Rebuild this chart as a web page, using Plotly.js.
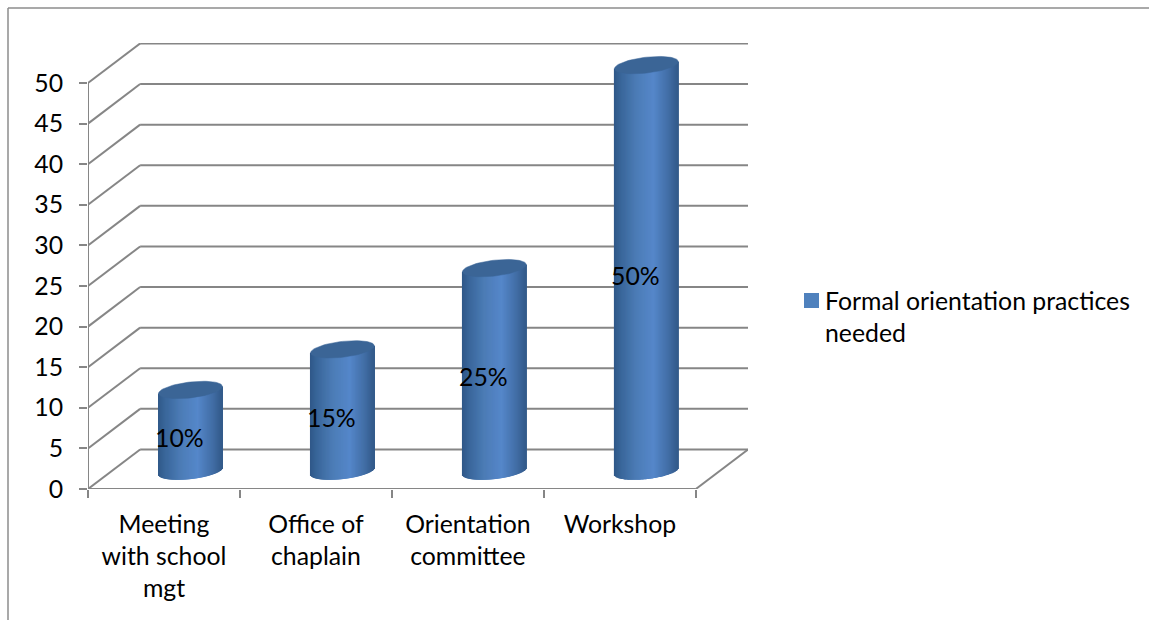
<!DOCTYPE html>
<html>
<head>
<meta charset="utf-8">
<script src="https://cdn.plot.ly/plotly-3.0.1.min.js"></script>
<style>html,body{margin:0;padding:0;background:#fff;overflow:hidden}#chart{width:1149px;height:620px}</style>
</head>
<body>
<div id="chart"></div>
<script>
// Survey results
const categories = ['Meeting<br>with school<br>mgt', 'Office of<br>chaplain', 'Orientation<br>committee', 'Workshop'];
const values = [10, 15, 25, 50];
const valueLabels = ['10%', '15%', '25%', '50%'];
const seriesName = 'Formal orientation practices<br>needed';
const yTicks = [0, 5, 10, 15, 20, 25, 30, 35, 40, 45, 50];

// Oblique projection of the 3D box, in axis units
const depthX = 0.343, depthY = 4.87;
const yMax = 50, xCount = categories.length;
const radiusX = 0.21, capB = 0.98, capTilt = 0.43, baseLift = 2.2, sliceCount = 64;
const gridColor = '#868686';
const seriesColor = '#4F81BD';
const shade = [[0, [47, 88, 136]], [0.12, [58, 103, 155]], [0.35, [76, 124, 182]], [0.62, [85, 135, 202]], [0.85, [66, 110, 166]], [1, [50, 90, 138]]];

function shadeAt(t) {
  for (let i = 1; i < shade.length; i++) {
    if (t <= shade[i][0]) {
      const k = (t - shade[i - 1][0]) / (shade[i][0] - shade[i - 1][0]);
      const c = shade[i - 1][1].map((v, j) => Math.round(v + (shade[i][1][j] - v) * k));
      return 'rgb(' + c.join(',') + ')';
    }
  }
  return 'rgb(' + shade[shade.length - 1][1].join(',') + ')';
}

const line = {color: gridColor, width: 2};
const seg = (x0, y0, x1, y1) => ({type: 'line', xref: 'x', yref: 'y', x0, y0, x1, y1, line, layer: 'below'});

// Walls and floor of the box
const shapes = [];
yTicks.forEach(t => {
  shapes.push(seg(0, t, depthX, t + depthY));
  shapes.push(seg(depthX, t + depthY, xCount + depthX, t + depthY));
});
shapes.push(seg(0, 0, 0, yMax));
shapes.push(seg(0, 0, xCount, 0));
shapes.push(seg(xCount, 0, xCount + depthX, depthY));

// Page frame and legend swatch, placed relative to the plot area
const frame = {color: '#8c8c8c', width: 1.5};
const px = v => (v - 88) / 660, py = v => (489 - v) / 446;
shapes.push({type: 'line', xref: 'paper', yref: 'paper', x0: px(8), x1: px(1149), y0: py(8), y1: py(8), line: frame});
shapes.push({type: 'line', xref: 'paper', yref: 'paper', x0: px(8), x1: px(8), y0: py(8), y1: py(620), line: frame});
shapes.push({type: 'rect', xref: 'paper', yref: 'paper', x0: px(804), x1: px(819), y0: py(293), y1: py(308), fillcolor: seriesColor, line: {width: 0}});

const traces = [];
const centers = categories.map((_, i) => i + 0.503 + depthX / 2);

// Cylinders: shaded body built from overlapping slices, then the elliptical cap
values.forEach((v, i) => {
  const cx = centers[i], xs = [], bases = [], heights = [], colors = [];
  const w = 2 * radiusX / sliceCount;
  for (let s = 0; s < sliceCount; s++) {
    const t = (s + 0.5) / sliceCount;
    const u = 2 * t - 1;
    const lower = baseLift - capB * Math.sqrt(1 - u * u) + capTilt * u;
    const upper = v + baseLift + capTilt * u;
    xs.push(cx - radiusX + t * 2 * radiusX);
    bases.push(lower);
    heights.push(upper - lower);
    colors.push(shadeAt(t));
  }
  traces.push({type: 'bar', x: xs, y: heights, base: bases, width: w * 2.2,
    marker: {color: colors, opacity: 1, line: {width: 0}}, showlegend: false, hoverinfo: 'skip'});
  const ex = [], ey = [];
  for (let a = 0; a <= 72; a++) {
    const th = a / 72 * 2 * Math.PI;
    ex.push(cx + radiusX * Math.cos(th));
    ey.push(v + baseLift + capB * Math.sin(th) + capTilt * Math.cos(th));
  }
  traces.push({type: 'scatter', mode: 'lines', x: ex, y: ey, fill: 'toself', fillcolor: '#3B6596',
    line: {color: '#3B6596', width: 0.5}, showlegend: false, hoverinfo: 'skip'});
});

const font = {family: 'Lato, sans-serif', size: 24.8, color: '#000'};

const annotations = values.map((v, i) => ({
  xref: 'x', yref: 'y', x: centers[i] - 0.072, y: v / 2 + 1.35, text: valueLabels[i], showarrow: false, font
}));
annotations.push({
  xref: 'paper', yref: 'paper', x: px(824), y: py(316), xanchor: 'left', yanchor: 'middle', align: 'left',
  text: seriesName, showarrow: false, font, borderpad: 0
});

Plotly.newPlot('chart', traces, {
  width: 1149, height: 620,
  margin: {l: 88, r: 401, t: 43, b: 131, pad: 0, autoexpand: false},
  paper_bgcolor: '#fff', plot_bgcolor: '#fff',
  barmode: 'overlay', font,
  xaxis: {
    range: [0, xCount + depthX], showgrid: false, zeroline: false, showline: false,
    tickmode: 'array', tickvals: categories.map((_, i) => i + 0.5), ticktext: categories,
    ticks: '', ticklabelstandoff: 18, tickangle: 0, tickfont: font,
    minor: {tickmode: 'array', tickvals: categories.map((_, i) => i).concat(xCount), ticks: 'outside', ticklen: 8, tickwidth: 2, tickcolor: gridColor, showgrid: false}
  },
  yaxis: {
    range: [0, 446 / 8.12], showgrid: false, zeroline: false, showline: false,
    tickmode: 'array', tickvals: yTicks, ticks: 'outside', ticklen: 8, tickwidth: 2, tickcolor: gridColor,
    ticklabelstandoff: 11, tickfont: font
  },
  showlegend: false,
  shapes, annotations
}, {displayModeBar: false, staticPlot: true});
</script>
</body>
</html>
